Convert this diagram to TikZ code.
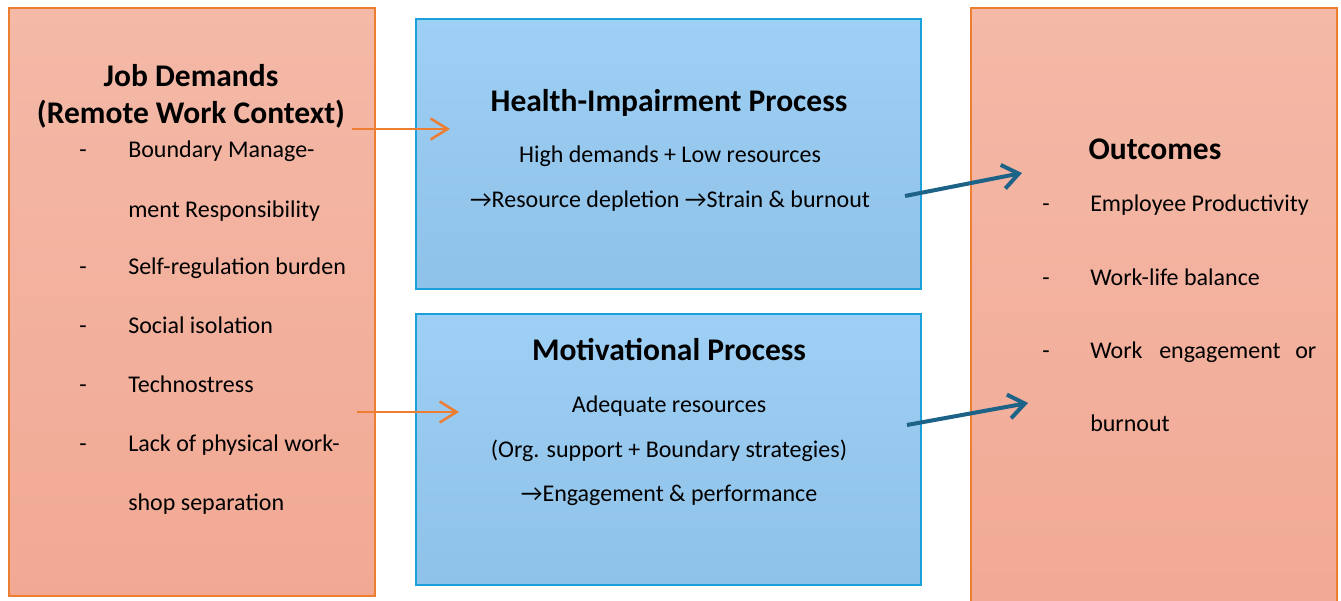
\documentclass[tikz,border=0pt]{standalone}
\usepackage{fontspec}
\setmainfont{Carlito}
\usetikzlibrary{arrows.meta}

\definecolor{peachtop}{HTML}{F4B9A7}
\definecolor{peachbot}{HTML}{F1A994}
\definecolor{skytop}{HTML}{9ECFF5}
\definecolor{skybot}{HTML}{8FC2E8}
\definecolor{edgeorange}{HTML}{ED7D31}
\definecolor{edgeblue}{HTML}{1BA1DA}
\definecolor{linkblue}{HTML}{1D6388}

\begin{document}
\begin{tikzpicture}[x=1pt,y=-1pt,line width=2.5pt,
    redbox/.style={draw=edgeorange, top color=peachtop, bottom color=peachbot, inner sep=0pt},
    bluebox/.style={draw=edgeblue, top color=skytop, bottom color=skybot, inner sep=0pt},
    head/.style={font=\fontsize{31.5}{36}\selectfont\bfseries, anchor=base, inner sep=0pt},
    line/.style={font=\fontsize{24}{28}\selectfont, anchor=base, inner sep=0pt},
    item/.style={font=\fontsize{24}{28}\selectfont, anchor=base west, inner sep=0pt},
    orangelink/.style={draw=edgeorange, line width=2.5pt, -{Straight Barb[length=17pt,width=21pt]}},
    bluelink/.style={draw=linkblue, line width=4pt, -{Straight Barb[length=16pt,width=24pt]}}]
  \useasboundingbox (0,0) rectangle (1341,601);

  % boxes
  \node[redbox, minimum width=366pt, minimum height=588pt] (demands) at (192,302) {};
  \node[bluebox, minimum width=505pt, minimum height=270pt] (health) at (668.5,154) {};
  \node[bluebox, minimum width=505pt, minimum height=271pt] (motiv) at (668.5,449.5) {};
  \node[redbox, minimum width=366pt, minimum height=622pt] (outcomes) at (1154,319) {};

  % job demands
  \node[head] (jd-title) at (191,87) {Job Demands};
  \node[head] (jd-sub) at (191,124) {(Remote Work Context)};
  \foreach \y [count=\i] in {158,275,334,392,451}
    \node[item] (jd-dash\i) at (78,\y) {-};
  \foreach \y/\t [count=\i] in {158/Boundary Manage-, 218/ment Responsibility,
      275/Self-regulation burden, 334/Social isolation, 392/Technostress,
      451/Lack of physical work-, 510/shop separation}
    \node[item] (jd-\i) at (127,\y) {\t};

  % processes
  \node[head] (hi-title) at (669,112) {Health-Impairment Process};
  \node[line] (hi-1) at (670,163) {High demands + Low resources};
  \node[line] (hi-2) at (670,208) {→Resource depletion →Strain \& burnout};
  \node[head] (mp-title) at (669,361) {Motivational Process};
  \node[line] (mp-1) at (669,413) {Adequate resources};
  \node[line] (mp-2) at (669,457) {(Org. support + Boundary strategies)};
  \node[line] (mp-3) at (669,501) {→Engagement \& performance};

  % outcomes
  \node[head] (oc-title) at (1155,160) {Outcomes};
  \foreach \y [count=\i] in {212,286,359}
    \node[item] (oc-dash\i) at (1041,\y) {-};
  \node[item] (oc-1) at (1089,212) {Employee Productivity};
  \node[item] (oc-2) at (1089,286) {Work-life balance};
  \node[item] (oc-3a) at (1089,359) {Work};
  \node[item] (oc-3b) at (1158,359) {engagement};
  \node[item] (oc-3c) at (1294,359) {or};
  \node[item] (oc-4) at (1089,431) {burnout};

  % links
  \coordinate (jd-out1) at (352,129);
  \coordinate (hi-in) at (450,129);
  \coordinate (jd-out2) at (357,412);
  \coordinate (mp-in) at (459,412);
  \coordinate (hi-out) at (905,196);
  \coordinate (oc-in1) at (1022,173);
  \coordinate (mp-out) at (907,425);
  \coordinate (oc-in2) at (1028,403);
  \draw[orangelink] (jd-out1) -- (hi-in);
  \draw[orangelink] (jd-out2) -- (mp-in);
  \draw[bluelink] (hi-out) -- (oc-in1);
  \draw[bluelink] (mp-out) -- (oc-in2);
\end{tikzpicture}
\end{document}
